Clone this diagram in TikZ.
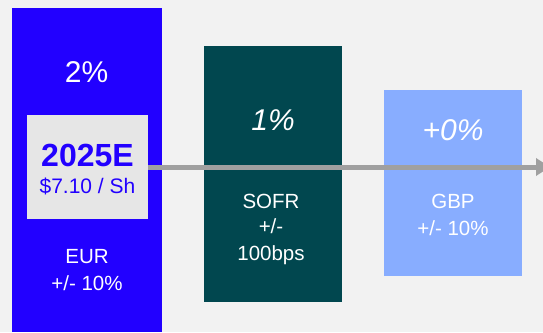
\documentclass[tikz,border=0pt]{standalone}
\usepackage{fontspec}
\setmainfont{Liberation Sans}
\usetikzlibrary{arrows.meta}
\definecolor{bg}{HTML}{F2F2F2}
\definecolor{eurblue}{HTML}{2200FF}
\definecolor{sofrteal}{HTML}{01474F}
\definecolor{gbpblue}{HTML}{88ADFF}
\definecolor{boxgray}{HTML}{E6E6E6}
\definecolor{arrgray}{HTML}{A0A0A0}
\begin{document}
\begin{tikzpicture}[x=1pt,y=-1pt,
  bar/.style={draw=none,inner sep=0pt,anchor=north west},
  pct/.style={text=white,font=\fontsize{30}{30}\selectfont\itshape,anchor=base,inner sep=0pt},
  lbl/.style={text=white,font=\fontsize{20.5}{27}\selectfont,anchor=base,inner sep=0pt},
]
\path[use as bounding box, fill=bg] (0,0) rectangle (543,332);
% bars
\node[bar,fill=eurblue,minimum width=150pt,minimum height=324pt] (eur) at (12,8) {};
\node[bar,fill=sofrteal,minimum width=138pt,minimum height=256pt] (sofr) at (204,46) {};
\node[bar,fill=gbpblue,minimum width=138pt,minimum height=186pt] (gbp) at (384,90) {};
% inner box
\node[bar,fill=boxgray,minimum width=121pt,minimum height=104pt] (est) at (27,115) {};
% arrow
\coordinate (tip) at (550,167);
\draw[arrgray,line width=5pt,-{Triangle[length=14pt,width=17pt]}] (est.east |- 0,167) -- (tip);
% texts
\node[pct,font=\fontsize{30}{30}\selectfont\upshape] (p1) at (86.5,82) {2\%};
\node[pct] (p2) at (273,130) {1\%};
\node[pct] (p3) at (453,140) {+0\%};
\node[anchor=base,inner sep=0pt,text=eurblue,font=\fontsize{32}{32}\selectfont\bfseries] (yr) at (87.5,166) {2025E};
\node[anchor=base,inner sep=0pt,text=eurblue,font=\fontsize{21}{21}\selectfont] (sh) at (87.5,193) {\$7.10 / Sh};
\node[lbl] (l1) at (87,263) {EUR};
\node[lbl] (l2) at (87,290) {+/- 10\%};
\node[lbl] (s1) at (271,208) {SOFR};
\node[lbl] (s2) at (271,233) {+/-};
\node[lbl] (s3) at (271,260) {100bps};
\node[lbl] (g1) at (453,208) {GBP};
\node[lbl] (g2) at (453,235) {+/- 10\%};
\end{tikzpicture}
\end{document}
